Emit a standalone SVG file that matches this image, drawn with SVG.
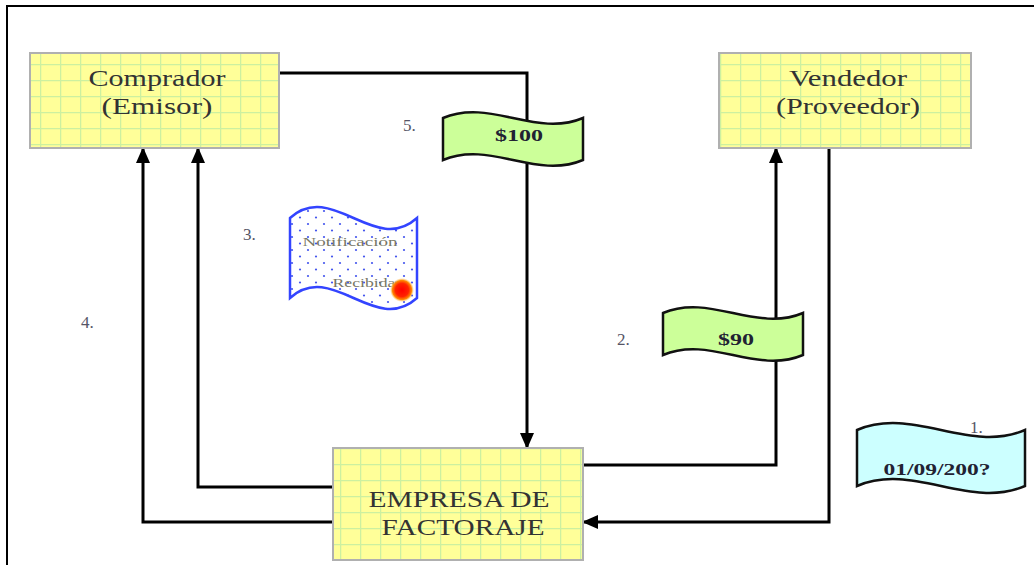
<svg xmlns="http://www.w3.org/2000/svg" width="1034" height="565" viewBox="0 0 1034 565">
<style>
.box{fill:url(#grid);stroke:#b0b0b0;stroke-width:2}
.lbl{font-family:"Liberation Serif",serif;font-size:24px;fill:#333;text-anchor:middle}
.num{font-family:"Liberation Serif",serif;font-size:17px;fill:#556}
.money{font-family:"Liberation Serif",serif;font-size:17px;font-weight:bold;fill:#223;text-anchor:middle}
.flag{stroke:#111;stroke-width:2.5}
.conn{fill:none;stroke:#000;stroke-width:3;marker-end:url(#ah)}
.note{font-family:"Liberation Serif",serif;font-size:13px;fill:#776;text-anchor:middle}
</style>
<defs>
<pattern id="grid" patternUnits="userSpaceOnUse" width="20" height="16">
<rect width="20" height="16" fill="#ffff99"/>
<path d="M0,0.5 H20 M0.5,0 V16" stroke="#ccf0a0" stroke-width="1.5" fill="none"/>
</pattern>
<pattern id="dots" patternUnits="userSpaceOnUse" width="16" height="13">
<rect width="16" height="13" fill="#fff"/>
<circle cx="4" cy="3" r="1.1" fill="#4455ee"/>
<circle cx="12" cy="9.5" r="1.1" fill="#4455ee"/>
</pattern>
<radialGradient id="seal">
<stop offset="0" stop-color="#ff0000"/>
<stop offset="0.55" stop-color="#ff2200"/>
<stop offset="0.8" stop-color="#ff8800"/>
<stop offset="1" stop-color="#ffcc66" stop-opacity="0"/>
</radialGradient>
<marker id="ah" viewBox="0 0 16 16" refX="15" refY="8" markerWidth="16" markerHeight="16" markerUnits="userSpaceOnUse" orient="auto">
<path d="M0,1 L16,8 L0,15 Z" fill="#000"/>
</marker>
</defs>
<rect width="1034" height="565" fill="#fff"/>
<path d="M7,565 V6 H1034" fill="none" stroke="#000" stroke-width="2"/>

<g id="connectors">
<path class="conn" d="M278,73 H527 V448"/>
<path class="conn" d="M333,487 H198 V148"/>
<path class="conn" d="M333,522 H143 V148"/>
<path class="conn" d="M583,465 H776 V148"/>
<path class="conn" d="M829,148 V522 H583"/>
</g>

<g id="comprador">
<rect class="box" x="30" y="53" width="249" height="95"/>
<text class="lbl" x="157" y="86" textLength="137" lengthAdjust="spacingAndGlyphs">Comprador</text>
<text class="lbl" x="157" y="114" textLength="111" lengthAdjust="spacingAndGlyphs">(Emisor)</text>
</g>

<g id="vendedor">
<rect class="box" x="719" y="53" width="252" height="95"/>
<text class="lbl" x="848" y="86" textLength="118" lengthAdjust="spacingAndGlyphs">Vendedor</text>
<text class="lbl" x="848" y="114" textLength="144" lengthAdjust="spacingAndGlyphs">(Proveedor)</text>
</g>

<g id="empresa">
<rect class="box" x="333" y="448" width="250" height="112"/>
<text class="lbl" x="459" y="507" textLength="181" lengthAdjust="spacingAndGlyphs">EMPRESA DE</text>
<text class="lbl" x="463" y="535" textLength="163" lengthAdjust="spacingAndGlyphs">FACTORAJE</text>
</g>

<g id="pago100">
<path class="flag" fill="#ccff99" d="M443,118 C490,98 536,138 583,118 L583,160 C536,180 490,140 443,160 Z"/>
<text class="money" x="519" y="141" textLength="48" lengthAdjust="spacingAndGlyphs">$100</text>
<text class="num" x="403" y="131">5.</text>
</g>

<g id="pago90">
<path class="flag" fill="#ccff99" d="M663,313 C710,293 756,333 803,313 L803,355 C756,375 710,335 663,355 Z"/>
<text class="money" x="736" y="345" textLength="36" lengthAdjust="spacingAndGlyphs">$90</text>
<text class="num" x="617" y="345">2.</text>
</g>

<g id="factura">
<path class="flag" fill="#ccffff" d="M857,430 C913,406 969,454 1025,430 L1025,486 C969,510 913,462 857,486 Z"/>
<text class="money" x="937" y="475" textLength="107" lengthAdjust="spacingAndGlyphs">01/09/200?</text>
<text class="num" x="970" y="433">1.</text>
</g>

<g id="notificacion">
<path fill="url(#dots)" stroke="#3344ff" stroke-width="2.5" d="M290,218 C332,180 375,256 417,218 L417,298 C375,336 332,260 290,298 Z"/>
<text class="note" x="350" y="246" textLength="95" lengthAdjust="spacingAndGlyphs">Notificación</text>
<text class="note" x="364" y="287" textLength="63" lengthAdjust="spacingAndGlyphs">Recibida</text>
<circle cx="402" cy="290" r="12" fill="url(#seal)"/>
<text class="num" x="243" y="240">3.</text>
</g>

<g id="paso4">
<text class="num" x="81" y="328">4.</text>
</g>
</svg>
